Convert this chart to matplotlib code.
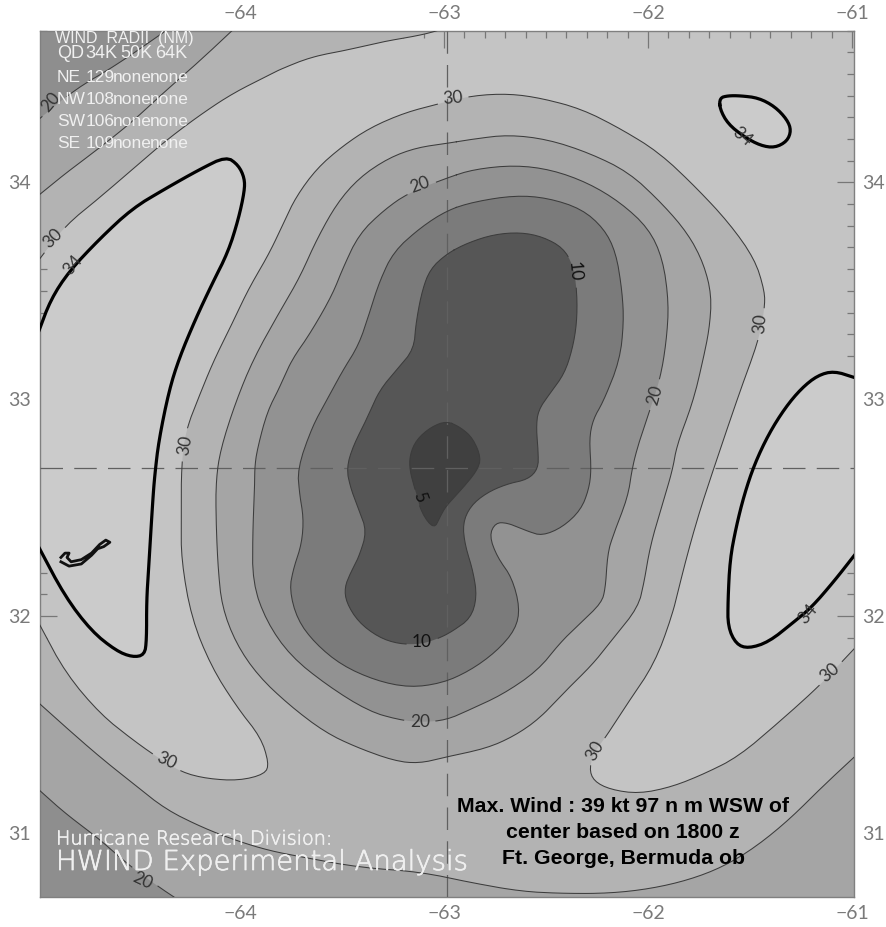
import numpy as np
from matplotlib import pyplot as plt
from matplotlib import patheffects

# traced contours, lon / lat in degrees
lon_5 = [-63.00, -62.93, -62.87, -62.83, -62.85, -62.92, -63.00, -63.03, -63.06, -63.12, -63.15, -63.18, -63.18, -63.15, -63.08]
lat_5 = [32.90, 32.87, 32.82, 32.73, 32.67, 32.59, 32.51, 32.46, 32.40, 32.47, 32.57, 32.67, 32.74, 32.81, 32.87]

lon_10 = [-63.00, -62.90, -62.77, -62.64, -62.53, -62.43, -62.38, -62.36, -62.36, -62.38, -62.42, -62.49, -62.55, -62.56, -62.55, -62.55,
          -62.60, -62.70, -62.80, -62.88, -62.92, -62.91, -62.87, -62.85, -62.88, -62.97, -63.03, -63.12, -63.23, -63.33, -63.43, -63.49,
          -63.50, -63.47, -63.43, -63.39, -63.43, -63.47, -63.49, -63.46, -63.39, -63.33, -63.24, -63.16, -63.15, -63.12, -63.08]
lat_10 = [33.67, 33.72, 33.76, 33.77, 33.75, 33.70, 33.62, 33.50, 33.36, 33.24, 33.12, 33.03, 32.95, 32.87, 32.76, 32.68,
          32.63, 32.61, 32.57, 32.51, 32.43, 32.33, 32.21, 32.09, 31.99, 31.93, 31.90, 31.87, 31.87, 31.90, 31.97, 32.06,
          32.13, 32.20, 32.27, 32.39, 32.49, 32.59, 32.68, 32.78, 32.91, 33.04, 33.14, 33.23, 33.35, 33.50, 33.60]

lon_15 = [-63.00, -62.87, -62.67, -62.51, -62.34, -62.23, -62.17, -62.14, -62.13, -62.15, -62.23, -62.28, -62.30, -62.29, -62.30, -62.34,
          -62.43, -62.53, -62.60, -62.70, -62.76, -62.79, -62.75, -62.68, -62.64, -62.66, -62.75, -62.88, -63.02, -63.18, -63.34, -63.51,
          -63.64, -63.73, -63.77, -63.75, -63.71, -63.70, -63.72, -63.73, -63.66, -63.59, -63.51, -63.43, -63.38, -63.33, -63.26, -63.13]
lat_15 = [33.87, 33.91, 33.94, 33.93, 33.88, 33.79, 33.68, 33.51, 33.36, 33.18, 32.99, 32.91, 32.82, 32.68, 32.59, 32.49,
          32.41, 32.37, 32.39, 32.43, 32.43, 32.37, 32.27, 32.18, 32.04, 31.94, 31.84, 31.75, 31.69, 31.67, 31.70, 31.77,
          31.87, 31.98, 32.12, 32.22, 32.33, 32.45, 32.56, 32.68, 32.87, 32.99, 33.13, 33.25, 33.39, 33.54, 33.68, 33.79]

lon_20 = [-63.00, -62.87, -62.67, -62.49, -62.31, -62.15, -62.01, -61.94, -61.91, -61.92, -61.95, -62.01, -62.06, -62.09, -62.11, -62.18,
          -62.21, -62.22, -62.24, -62.34, -62.44, -62.55, -62.72, -62.88, -63.00, -63.12, -63.23, -63.38, -63.57, -63.76, -63.88, -63.95,
          -63.95, -63.94, -63.94, -63.93, -63.88, -63.82, -63.76, -63.67, -63.56, -63.51, -63.43, -63.31, -63.19]
lat_20 = [34.02, 34.06, 34.08, 34.06, 34.00, 33.91, 33.79, 33.65, 33.45, 33.28, 33.10, 32.93, 32.79, 32.68, 32.55, 32.38,
          32.29, 32.13, 32.06, 31.97, 31.88, 31.75, 31.64, 31.57, 31.52, 31.51, 31.52, 31.56, 31.67, 31.81, 31.97, 32.15,
          32.38, 32.61, 32.68, 32.76, 32.94, 33.05, 33.18, 33.30, 33.48, 33.60, 33.76, 33.87, 33.95]

lon_25 = [-63.00, -62.87, -62.70, -62.51, -62.31, -62.11, -61.95, -61.82, -61.74, -61.70, -61.71, -61.74, -61.79, -61.87, -61.89, -61.93,
          -62.00, -62.03, -62.06, -62.18, -62.28, -62.41, -62.54, -62.66, -62.80, -63.00, -63.13, -63.25, -63.43, -63.59, -63.76, -63.92,
          -64.03, -64.10, -64.12, -64.13, -64.13, -64.11, -64.04, -63.95, -63.82, -63.72, -63.64, -63.54, -63.43, -63.29, -63.15]
lat_25 = [34.18, 34.20, 34.22, 34.20, 34.14, 34.05, 33.91, 33.77, 33.63, 33.48, 33.33, 33.19, 32.99, 32.79, 32.68, 32.55,
          32.33, 32.16, 32.04, 31.90, 31.78, 31.66, 31.53, 31.45, 31.39, 31.35, 31.32, 31.33, 31.39, 31.46, 31.58, 31.72,
          31.87, 32.04, 32.22, 32.45, 32.62, 32.76, 32.97, 33.18, 33.40, 33.56, 33.73, 33.90, 34.02, 34.11, 34.16]

# 30 kt line around the low, it leaves through the left and right edges
lon_30 = [-65.00, -64.87, -64.70, -64.54, -64.42, -64.30, -64.18, -64.02, -63.89, -63.87, -63.91, -64.02, -64.15, -64.25, -64.30, -64.30,
          -64.30, -64.28, -64.21, -64.14, -64.05, -63.97, -63.87, -63.80, -63.74, -63.64, -63.52, -63.38, -63.21, -63.05, -62.88, -62.70,
          -62.54, -62.34, -62.15, -61.96, -61.79, -61.62, -61.49, -61.44, -61.44, -61.47, -61.56, -61.69, -61.77, -61.84, -61.89, -61.98,
          -62.11, -62.22, -62.27, -62.30, -62.28, -62.20, -62.06, -61.90, -61.74, -61.57, -61.37, -61.18, -61.05, -61.00]
lat_30 = [31.97, 31.74, 31.55, 31.43, 31.35, 31.28, 31.25, 31.24, 31.27, 31.32, 31.44, 31.57, 31.76, 31.99, 32.26, 32.45,
          32.68, 32.85, 33.02, 33.18, 33.35, 33.51, 33.67, 33.81, 33.93, 34.06, 34.16, 34.25, 34.32, 34.36, 34.40, 34.41,
          34.39, 34.34, 34.25, 34.14, 33.99, 33.82, 33.65, 33.50, 33.42, 33.27, 33.04, 32.68, 32.45, 32.21, 32.01, 31.78,
          31.60, 31.44, 31.38, 31.30, 31.24, 31.20, 31.18, 31.21, 31.27, 31.35, 31.51, 31.67, 31.80, 31.85]

# corner contours
lon_nw30 = [-65.00, -64.87, -64.70, -64.54, -64.38, -64.21, -64.05, -63.88, -63.82, -63.66, -63.49, -63.31, -63.12, -63.01]
lat_nw30 = [33.64, 33.80, 33.93, 34.06, 34.19, 34.31, 34.41, 34.49, 34.52, 34.58, 34.61, 34.65, 34.68, 34.71]
lon_nw25 = [-65.00, -64.87, -64.70, -64.54, -64.38, -64.21, -64.04]
lat_nw25 = [33.94, 34.04, 34.16, 34.28, 34.42, 34.56, 34.71]
lon_nw20 = [-65.00, -64.82, -64.62, -64.36]
lat_nw20 = [34.29, 34.43, 34.54, 34.71]
lon_s25 = [-65.00, -64.87, -64.70, -64.54, -64.38, -64.21, -64.05, -63.88, -63.72, -63.43, -63.13, -62.88, -62.64, -62.44, -62.21, -62.01,
           -61.82, -61.65, -61.49, -61.32, -61.16, -61.00]
lat_s25 = [31.60, 31.49, 31.35, 31.23, 31.11, 31.03, 30.97, 30.92, 30.89, 30.84, 30.82, 30.77, 30.73, 30.72, 30.72, 30.74,
           30.78, 30.84, 30.93, 31.06, 31.21, 31.35]
lon_sw20 = [-65.00, -64.87, -64.70, -64.57, -64.41, -64.33]
lat_sw20 = [31.20, 31.09, 30.97, 30.86, 30.75, 30.70]

# 34 kt (gale) lines
lon_w34 = [-65.00, -64.94, -64.85, -64.70, -64.54, -64.38, -64.21, -64.08, -64.02, -63.99, -63.99, -64.02, -64.07, -64.15, -64.23, -64.31,
           -64.36, -64.41, -64.43, -64.44, -64.46, -64.47, -64.47, -64.48, -64.54, -64.62, -64.74, -64.87, -65.00]
lat_w34 = [33.31, 33.46, 33.59, 33.74, 33.88, 33.97, 34.06, 34.12, 34.08, 34.02, 33.96, 33.83, 33.68, 33.53, 33.37, 33.19,
           33.04, 32.81, 32.65, 32.53, 32.22, 32.07, 31.89, 31.82, 31.81, 31.84, 31.93, 32.09, 32.32]
lon_e34 = [-61.00, -61.10, -61.18, -61.26, -61.34, -61.42, -61.49, -61.54, -61.58, -61.61, -61.62, -61.62, -61.58, -61.52, -61.42, -61.30,
           -61.21, -61.10, -61.00]
lat_e34 = [33.10, 33.13, 33.11, 33.05, 32.96, 32.84, 32.70, 32.56, 32.41, 32.26, 32.07, 31.95, 31.87, 31.85, 31.88, 31.97,
           32.04, 32.16, 32.28]
lon_ne34 = [-61.66, -61.66, -61.62, -61.56, -61.47, -61.39, -61.33, -61.31, -61.33, -61.39, -61.46, -61.54, -61.62]
lat_ne34 = [34.34, 34.39, 34.40, 34.40, 34.39, 34.35, 34.29, 34.24, 34.19, 34.16, 34.17, 34.21, 34.27]

# Bermuda outline
lon_bermuda = [-64.89, -64.87, -64.85, -64.86, -64.84, -64.79, -64.74, -64.70, -64.67, -64.65, -64.68, -64.71, -64.74, -64.79, -64.85, -64.89]
lat_bermuda = [32.27, 32.29, 32.29, 32.27, 32.25, 32.26, 32.29, 32.33, 32.35, 32.34, 32.32, 32.31, 32.28, 32.24, 32.23, 32.25]

# contour labels
label_text = ['30', '20', '10', '5', '10', '20', '20', '30', '30', '30', '20', '30', '30', '30', '20', '34', '34', '34']
label_lon = [-62.97, -63.13, -62.37, -63.13, -63.12, -63.13, -61.98, -61.46, -64.28, -64.37, -64.49, -62.27, -61.12, -64.93, -64.94, -64.83, -61.55, -61.23]
label_lat = [34.39, 33.99, 33.59, 32.55, 31.88, 31.51, 33.02, 33.35, 32.79, 31.33, 30.78, 31.38, 31.74, 33.74, 34.37, 33.62, 34.21, 32.01]
label_rot = [5, 20, -85, -70, 0, 0, 75, 85, 80, -25, -25, 60, 40, 45, 50, 50, -40, 50]

lon_ticks = [-64, -63, -62, -61]
lat_ticks = [31, 32, 33, 34]
center_lon = -62.987
center_lat = 32.684
radii_rows = ['NE', 'NW', 'SW', 'SE']
radii_34 = ['129', '108', '106', '109']

LON_OFFSET = 0.012  # 上の経度は少しずれた目盛で読んだので補正
X0, X1 = -64.983, -60.99
Y0, Y1 = 30.705, 34.70
W, H = 886, 927

plt.rcParams['font.family'] = ['Lato', 'DejaVu Sans']

fig = plt.figure(figsize=(W / 100, H / 100), dpi=100, facecolor='white')
ax = fig.add_axes([39.5 / W, 1 - 896.7 / H, (854 - 39.5) / W, (896.7 - 30.7) / H])
ax.set_xlim(X0, X1)
ax.set_ylim(Y0, Y1)
ax.set_facecolor('#c4c4c4')


def smooth(lon, lat, closed=True, n=2):
    # Chaikinで折れ線の角だけ丸める
    pts = np.column_stack([np.array(lon) + LON_OFFSET, lat])
    for _ in range(n):
        if closed:
            a, b = pts, np.roll(pts, -1, axis=0)
            pts = np.vstack([np.column_stack([0.75 * a + 0.25 * b, 0.25 * a + 0.75 * b]).reshape(-1, 2)])
        else:
            a, b = pts[:-1], pts[1:]
            mid = np.column_stack([0.75 * a + 0.25 * b, 0.25 * a + 0.75 * b]).reshape(-1, 2)
            pts = np.vstack([pts[:1], mid, pts[-1:]])
    return pts[:, 0], pts[:, 1]


def fill_closed(lon, lat, color):
    x, y = smooth(lon, lat)
    ax.fill(x, y, color=color, lw=0, zorder=2)


def fill_open(lon, lat, corners, color):
    x, y = smooth(lon, lat, closed=False)
    cx = [c[0] for c in corners]
    cy = [c[1] for c in corners]
    ax.fill(np.r_[x, cx], np.r_[y, cy], color=color, lw=0, zorder=2)


label_px = ax.transData.transform(np.column_stack([np.array(label_lon) + LON_OFFSET, label_lat]))


def thin_line(lon, lat, closed=True):
    x, y = smooth(lon, lat, closed)
    if closed:
        x, y = np.r_[x, x[0]], np.r_[y, y[0]]
    # ラベルの所だけ線を切る
    t = np.arange(len(x))
    tt = np.linspace(0, len(x) - 1, len(x) * 6)
    xx, yy = np.interp(tt, t, x), np.interp(tt, t, y)
    px = ax.transData.transform(np.column_stack([xx, yy]))
    for i, s in enumerate(label_text):
        if s == '34':
            continue
        r = 9 if s == '5' else 16
        near = np.hypot(px[:, 0] - label_px[i, 0], px[:, 1] - label_px[i, 1]) < r
        xx = np.where(near, np.nan, xx)
    ax.plot(xx, yy, color='#3c3c3c', lw=0.75, zorder=4)


def thick_line(lon, lat, closed=False):
    x, y = smooth(lon, lat, closed)
    if closed:
        x, y = np.r_[x, x[0]], np.r_[y, y[0]]
    ax.plot(x, y, color='black', lw=2.3, zorder=5)


nw = [(X0 - 0.1, Y1 + 0.1)]
sw = [(X1 + 0.1, Y0 - 0.1), (X0 - 0.1, Y0 - 0.1)]

# 外側から順に塗る
fill_open(lon_30, lat_30, sw, '#b3b3b3')
fill_open(lon_nw30, lat_nw30, nw, '#b3b3b3')
fill_closed(lon_25, lat_25, '#a5a5a5')
fill_open(lon_s25, lat_s25, sw, '#a5a5a5')
fill_open(lon_nw25, lat_nw25, nw, '#a5a5a5')
fill_closed(lon_20, lat_20, '#929292')
fill_open(lon_sw20, lat_sw20, [(X0 - 0.1, Y0 - 0.1)], '#8e8e8e')
fill_open(lon_nw20, lat_nw20, nw, '#8e8e8e')
fill_closed(lon_15, lat_15, '#7b7b7b')
fill_closed(lon_10, lat_10, '#565656')
fill_closed(lon_5, lat_5, '#404040')
fill_open(lon_w34, lat_w34, [(X0 - 0.1, 32.32), (X0 - 0.1, 33.31)], '#cbcbcb')
fill_open(lon_e34, lat_e34, [(X1 + 0.1, 32.28), (X1 + 0.1, 33.10)], '#cbcbcb')
fill_closed(lon_ne34, lat_ne34, '#cbcbcb')

for lo, la in [(lon_5, lat_5), (lon_10, lat_10), (lon_15, lat_15), (lon_20, lat_20), (lon_25, lat_25)]:
    thin_line(lo, la)
for lo, la in [(lon_30, lat_30), (lon_nw30, lat_nw30), (lon_nw25, lat_nw25), (lon_nw20, lat_nw20), (lon_s25, lat_s25), (lon_sw20, lat_sw20)]:
    thin_line(lo, la, closed=False)
thick_line(lon_w34, lat_w34)
thick_line(lon_e34, lat_e34)
thick_line(lon_ne34, lat_ne34, closed=True)
ax.plot(np.array(lon_bermuda) + LON_OFFSET, lat_bermuda, color='#111111', lw=2.0, zorder=5)

for s, lo, la, r in zip(label_text, label_lon, label_lat, label_rot):
    col = '#111111' if s in ('5', '10') else '#333333'
    ax.text(lo + LON_OFFSET, la, s, rotation=r, rotation_mode='anchor', ha='center', va='center',
            fontsize=12.5, color=col, zorder=6)

# 中心の十字線
ax.axvline(center_lon, color='#606060', lw=0.9, dashes=(18, 9), zorder=3)
ax.axhline(center_lat, color='#606060', lw=0.9, dashes=(18, 9), zorder=3)

# 目盛
ax.set_xticks(lon_ticks)
ax.set_yticks(lat_ticks)
ax.set_xticklabels(['\u2212%d' % abs(v) for v in lon_ticks])
ax.set_xticks(np.arange(-64.9, -60.99, 0.1), minor=True)
ax.set_yticks(np.arange(30.8, 34.7, 0.1), minor=True)
ax.tick_params(which='major', direction='in', length=12, width=0.9, color='#777777', top=True, right=True,
               labeltop=True, labelright=True, labelsize=14, labelcolor='#7a7a7a', pad=6)
ax.tick_params(which='minor', direction='in', length=5, width=0.9, color='#777777', top=True, right=True)
for sp in ax.spines.values():
    sp.set_color('#808080')
    sp.set_linewidth(1.0)


def px_text(x, y, s, **kw):
    return fig.text(x / W, 1 - y / H, s, va='center', zorder=10, **kw)


# 白い文字
white = dict(color='#f0f0f0', family='Liberation Sans')
px_text(55, 38, 'WIND  RADII  (NM)', fontsize=11.5, **white)
px_text(57, 54, 'QD', fontsize=13, **white)
px_text(85, 54, '34K', fontsize=13, **white)
px_text(120, 54, '50K', fontsize=13, **white)
px_text(155, 54, '64K', fontsize=13, **white)
for i, row in enumerate(radii_rows):
    y = 77 + i * 22
    px_text(57, y, row, fontsize=12.5, **white)
    px_text(86, y, radii_34[i], fontsize=12.5, **white)
    px_text(113, y, 'none', fontsize=12.5, **white)
    px_text(150, y, 'none', fontsize=12.5, **white)

# 細すぎるので少しだけ太らせる
thicker = [patheffects.withStroke(linewidth=0.5, foreground='#f0f0f0')]
px_text(56, 839, 'Hurricane Research Division:', fontsize=13.8, color='#f0f0f0', family='DejaVu Sans',
        fontweight='light', path_effects=thicker)
px_text(56, 862, 'HWIND Experimental Analysis', fontsize=19.8, color='#f0f0f0', family='DejaVu Sans',
        fontweight='light', path_effects=thicker)

# 最大風速の注記
for y, s in [(806, 'Max. Wind : 39 kt 97 n m WSW of'), (833, 'center based on 1800 z'), (858, 'Ft. George, Bermuda ob')]:
    px_text(623, y, s, fontsize=15.3, fontweight='bold', color='black', family='Liberation Sans', ha='center')

fig.savefig('out.png', dpi=100)
